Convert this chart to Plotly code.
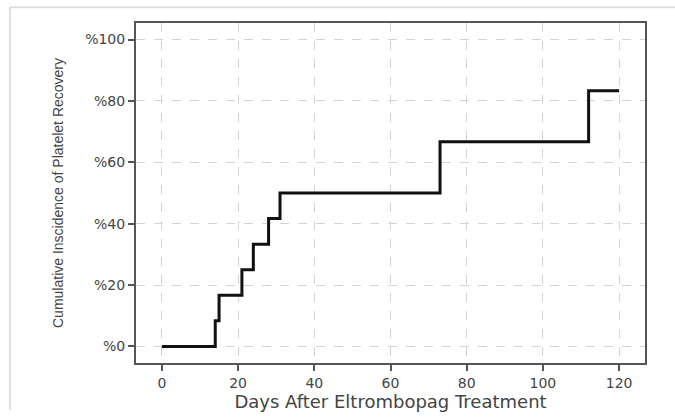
import plotly.graph_objects as go

days = [0, 14, 15, 21, 24, 28, 31, 73, 112, 120]
incidence = [0, 8.33, 16.67, 25.0, 33.33, 41.67, 50.0, 66.67, 83.33, 83.33]
y_tick_vals = [0, 20, 40, 60, 80, 100]
y_tick_text = ["%0", "%20", "%40", "%60", "%80", "%100"]
x_tick_vals = [0, 20, 40, 60, 80, 100, 120]

W, H = 675, 418
L, R, T, B = 136, 645, 23, 370
PW, PH = R - L, B - T

fig = go.Figure()
fig.add_trace(go.Scatter(
    x=days, y=incidence, mode="lines",
    line=dict(shape="hv", color="#111111", width=3),
    showlegend=False,
))

axis_common = dict(
    showline=True, linecolor="#555555", linewidth=2, mirror=True,
    ticks="outside", ticklen=6, tickwidth=2, tickcolor="#555555",
    showgrid=True, gridcolor="#d4d4d4", griddash="dash", gridwidth=1,
    zeroline=False,
    tickfont=dict(family="DejaVu Sans", size=14, color="#444444"),
)

fig.update_xaxes(
    range=[-6.8, 126.8], tickvals=x_tick_vals, **axis_common,
    title=dict(text="Days After Eltrombopag Treatment",
               font=dict(family="DejaVu Sans", size=18, color="#444444"),
               standoff=3),
)
fig.update_yaxes(
    range=[-5.4, 105.4], tickvals=y_tick_vals, ticktext=y_tick_text, **axis_common,
    title=dict(text="Cumulative Inscidence of Platelet Recovery",
               font=dict(family="Liberation Sans Narrow, Arial Narrow, Liberation Sans", size=14, color="#444444"),
               standoff=18),
)

# light outer frame (top and left edges as in reference)
ftop = (B - 7) / PH
fleft = (10 - L) / PW
fig.add_shape(type="line", xref="paper", yref="paper",
              x0=fleft, x1=(W - L) / PW, y0=ftop, y1=ftop,
              line=dict(color="#dddddd", width=2))
fig.add_shape(type="line", xref="paper", yref="paper",
              x0=fleft, x1=fleft, y0=ftop, y1=(B - H) / PH,
              line=dict(color="#dddddd", width=2))

fig.update_layout(
    width=W, height=H,
    margin=dict(l=L, r=W - R, t=T, b=H - B),
    paper_bgcolor="white", plot_bgcolor="white",
)

fig.write_html("out.html", config={"displayModeBar": False},
               post_script="document.body.style.margin='0';")
